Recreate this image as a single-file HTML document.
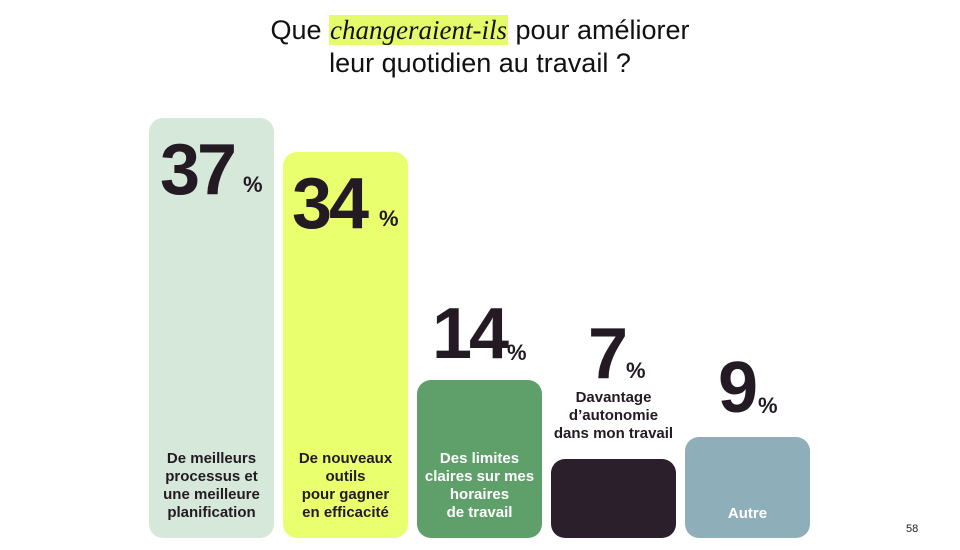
<!DOCTYPE html>
<html><head><meta charset="utf-8"><style>
body{margin:0;width:960px;height:550px;background:#fff;position:relative;overflow:hidden;font-family:"Liberation Sans",sans-serif;color:#231a23}
.t{position:absolute;left:0;width:960px;text-align:center;font-size:27px;line-height:33px;top:14px;color:#111}
.hl{background:#e6fb6c;font-family:"Liberation Serif",serif;font-style:italic;padding:0 1px}
.b{position:absolute;width:125px;border-radius:14px;bottom:12px}
.n{position:absolute;font-weight:bold;font-size:72px;line-height:72px;letter-spacing:-3px}
.p{position:absolute;font-weight:bold;font-size:22px}
.l{position:absolute;width:125px;text-align:center;font-weight:bold;font-size:15px;line-height:18px}
</style></head><body>
<div class="t">Que <span class="hl">changeraient-ils</span> pour améliorer<br>leur quotidien au travail ?</div>
<div class="b" style="left:149px;top:118px;background:#d5e8da"></div>
<div class="b" style="left:283px;top:152px;background:#eaff6e"></div>
<div class="b" style="left:417px;top:380px;background:#5fa06a"></div>
<div class="b" style="left:551px;top:459px;background:#2a1f2a"></div>
<div class="b" style="left:685px;top:437px;background:#8eaeb9"></div>
<div class="n" style="left:160px;top:134px">37</div><div class="p" style="left:243px;top:172px">%</div>
<div class="n" style="left:292px;top:168px">34</div><div class="p" style="left:379px;top:206px">%</div>
<div class="n" style="left:432px;top:298px">14</div><div class="p" style="left:507px;top:340px">%</div>
<div class="n" style="left:588px;top:318px">7</div><div class="p" style="left:626px;top:358px">%</div>
<div class="n" style="left:718px;top:352px">9</div><div class="p" style="left:758px;top:393px">%</div>
<div class="l" style="left:149px;top:450px">De meilleurs<br>processus et<br>une meilleure<br>planification</div>
<div class="l" style="left:283px;top:450px">De nouveaux<br>outils<br>pour gagner<br>en efficacité</div>
<div class="l" style="left:417px;top:450px;color:#fff">Des limites<br>claires sur mes<br>horaires<br>de travail</div>
<div class="l" style="left:551px;top:389px">Davantage<br>d’autonomie<br>dans mon travail</div>
<div class="l" style="left:685px;top:505px;color:#fff">Autre</div>
<div style="position:absolute;left:906px;top:523px;font-size:11px">58</div>
</body></html>
